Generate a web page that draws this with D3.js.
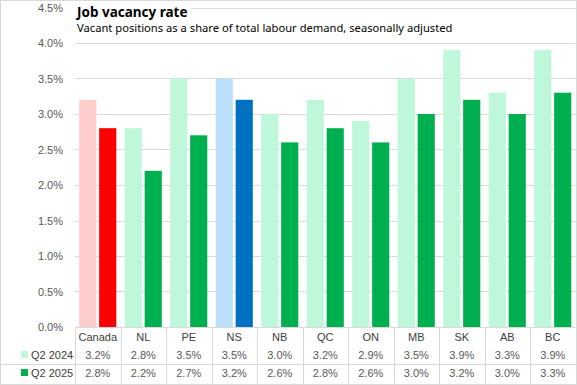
<!DOCTYPE html>
<html>
<head>
<meta charset="utf-8">
<script src="https://cdn.jsdelivr.net/npm/d3@7"></script>
<style>
  body { margin: 0; background: #fff; }
  svg { display: block; }
</style>
</head>
<body>
<script>
// Chart data
const regions = ["Canada", "NL", "PE", "NS", "NB", "QC", "ON", "MB", "SK", "AB", "BC"];
const seriesNames = ["Q2 2024", "Q2 2025"];
const q2_2024 = [3.2, 2.8, 3.5, 3.5, 3.0, 3.2, 2.9, 3.5, 3.9, 3.3, 3.9];
const q2_2025 = [2.8, 2.2, 2.7, 3.2, 2.6, 2.8, 2.6, 3.0, 3.2, 3.0, 3.3];
const yTicks = [0, 0.5, 1, 1.5, 2, 2.5, 3, 3.5, 4, 4.5];

const width = 577, height = 385;
const plotLeft = 75, plotRight = 575.5, plotTop = 7.5, plotBottom = 327;
const grid = "#d9d9d9", textCol = "#595959";

// colour per region: [light, dark]
function colours(r) {
  if (r === "Canada") return ["#ffcccc", "#ff0000"];
  if (r === "NS") return ["#bde0fa", "#0070c0"];
  return ["#bff7da", "#00b050"];
}

const svg = d3.select("body").append("svg")
  .attr("width", width).attr("height", height)
  .style("font-family", "'Liberation Sans', Arial, sans-serif");

const x = d3.scaleBand().domain(regions).range([plotLeft, plotRight]);
const x1 = d3.scaleBand().domain([0, 1]).range([4.2, x.bandwidth() - 4.2]).paddingInner(0.14);
const y = d3.scaleLinear().domain([0, 4.5]).range([plotBottom, plotTop]);

// gridlines
svg.append("g").selectAll("line").data(yTicks).join("line")
  .attr("x1", plotLeft).attr("x2", plotRight)
  .attr("y1", d => Math.round(y(d)) + 0.5).attr("y2", d => Math.round(y(d)) + 0.5)
  .attr("stroke", grid).attr("stroke-width", 1);

// y axis labels
svg.append("g").selectAll("text").data(yTicks).join("text")
  .attr("x", 63).attr("y", d => y(d) + 4)
  .attr("text-anchor", "end")
  .attr("font-size", 11).attr("fill", textCol)
  .text(d => d.toFixed(1) + "%");

// bars
const groups = svg.append("g").selectAll("g").data(regions).join("g")
  .attr("transform", d => `translate(${x(d)},0)`);
groups.selectAll("rect")
  .data((r, i) => [q2_2024[i], q2_2025[i]].map((v, s) => ({ r, v, s })))
  .join("rect")
  .attr("x", d => x1(d.s))
  .attr("width", x1.bandwidth())
  .attr("y", d => y(d.v))
  .attr("height", d => y(0) - y(d.v))
  .attr("fill", d => colours(d.r)[d.s]);

// title block (white backing hides top gridline)
const titleBack = svg.append("rect").attr("fill", "#fff");
const title = svg.append("text")
  .attr("x", 77).attr("y", 16.5)
  .attr("font-family", "'Noto Sans', sans-serif")
  .attr("font-weight", "bold").attr("font-size", 13.5).attr("fill", "#000")
  .text("Job vacancy rate");
const bb = title.node().getBBox();
titleBack.attr("x", 76).attr("y", 2).attr("width", bb.width + 4).attr("height", 12);
svg.append("text")
  .attr("x", 77).attr("y", 31.5)
  .attr("font-family", "'Noto Sans', sans-serif")
  .attr("font-size", 11.2).attr("fill", "#000")
  .text("Vacant positions as a share of total labour demand, seasonally adjusted");

// data table
const table = svg.append("g");
const rowY = [341, 359, 377];
// vertical separators
table.selectAll("line.v").data(d3.range(regions.length + 1)).join("line")
  .attr("class", "v")
  .attr("x1", i => Math.round(plotLeft + i * x.step()) + 0.5)
  .attr("x2", i => Math.round(plotLeft + i * x.step()) + 0.5)
  .attr("y1", plotBottom).attr("y2", height)
  .attr("stroke", grid);
// horizontal separator between rows
table.append("line")
  .attr("x1", 0).attr("x2", width).attr("y1", 364.5).attr("y2", 364.5)
  .attr("stroke", grid);

table.selectAll("text.cat").data(regions).join("text")
  .attr("class", "cat")
  .attr("x", d => x(d) + x.bandwidth() / 2).attr("y", rowY[0])
  .attr("text-anchor", "middle").attr("font-size", 11).attr("fill", "#404040")
  .text(d => d);

[q2_2024, q2_2025].forEach((vals, s) => {
  table.selectAll("text.val" + s).data(vals).join("text")
    .attr("class", "val" + s)
    .attr("x", (d, i) => x(regions[i]) + x.bandwidth() / 2).attr("y", rowY[s + 1])
    .attr("text-anchor", "middle").attr("font-size", 11).attr("fill", textCol)
    .text(d => d.toFixed(1) + "%");
  table.append("rect")
    .attr("x", 21).attr("y", rowY[s + 1] - 8).attr("width", 7).attr("height", 7)
    .attr("fill", colours("ON")[s]);
  table.append("text")
    .attr("x", 31).attr("y", rowY[s + 1])
    .attr("font-size", 11).attr("fill", "#404040")
    .text(seriesNames[s]);
});

// outer border
svg.append("rect")
  .attr("x", 0.5).attr("y", 0.5).attr("width", width - 1).attr("height", height - 1)
  .attr("fill", "none").attr("stroke", grid);
</script>
</body>
</html>
